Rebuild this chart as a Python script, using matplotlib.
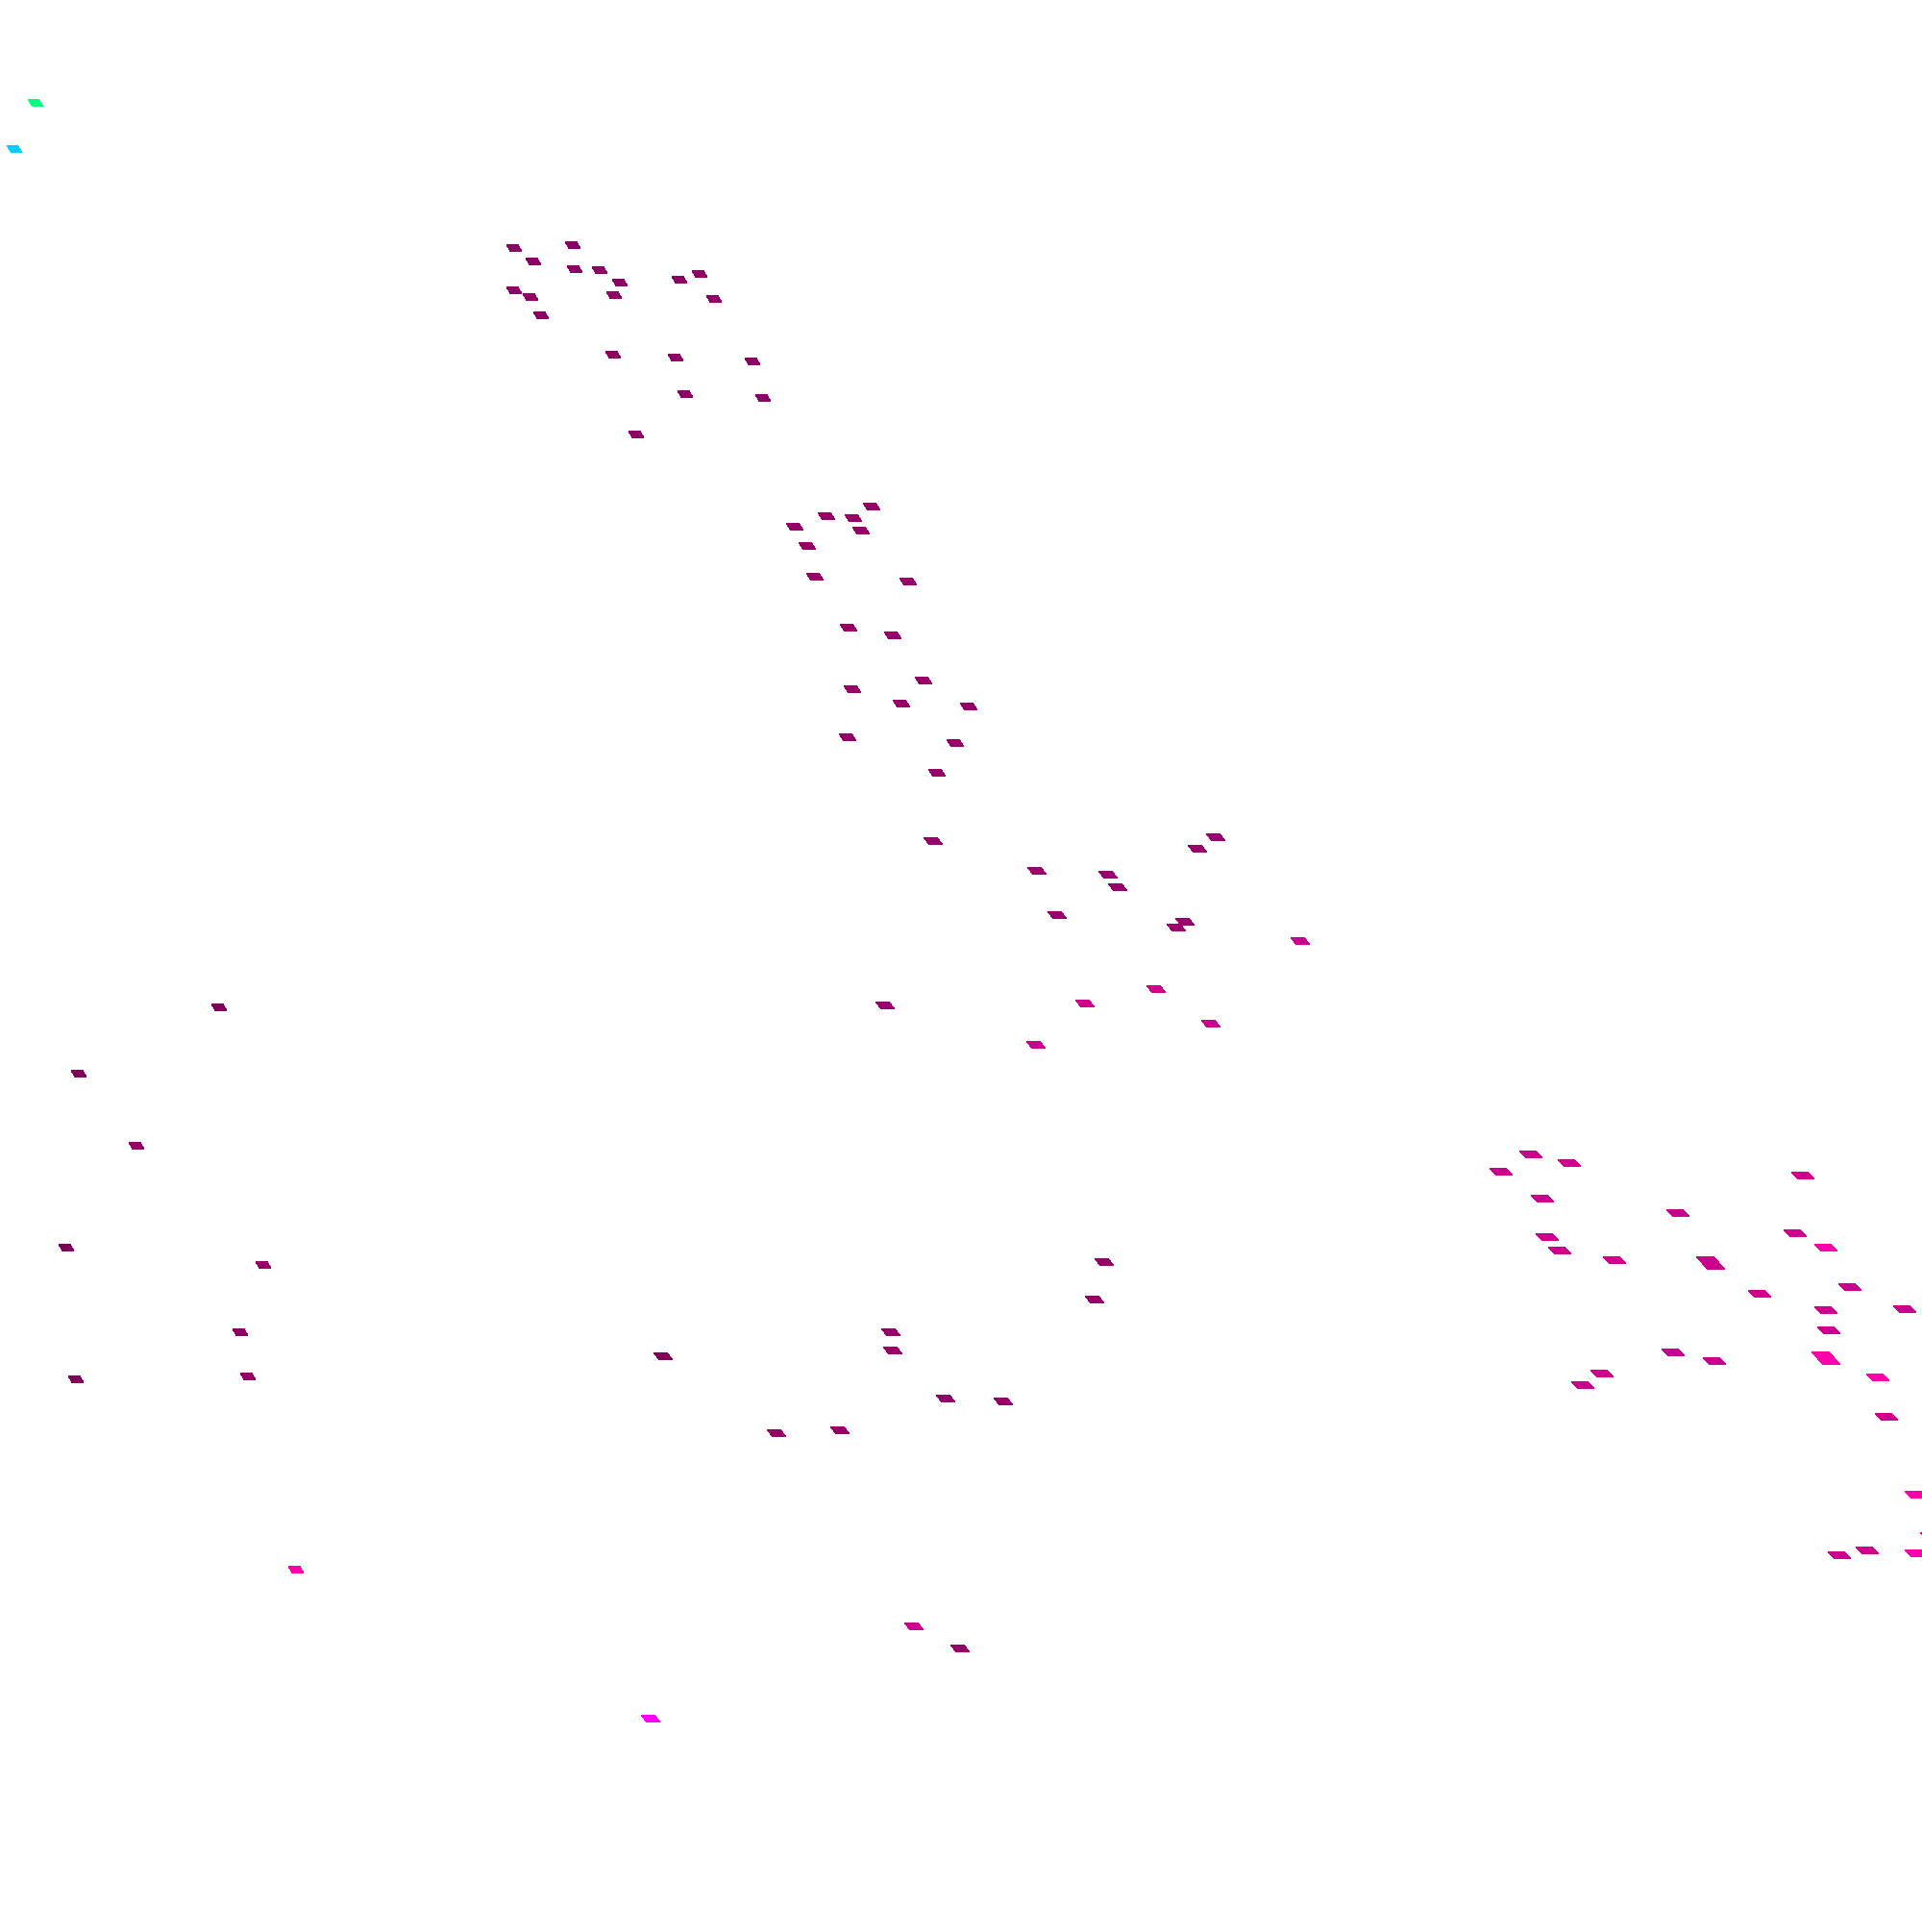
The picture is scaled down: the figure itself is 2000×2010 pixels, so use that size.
import matplotlib
matplotlib.use('Agg')
import matplotlib.pyplot as plt
from matplotlib.collections import PolyCollection

DARK = '#80005a'
PLUM = '#8f0064'
WINE = '#960066'
BERRY = '#99006b'
PINK = '#cc008c'
HOT = '#ff00aa'

# outliers at the top left
outlier_x = [37, 15]
outlier_y = [107, 155]
outlier_colors = ['#00ff80', '#00ccff']

# upper cluster
upper_x = [535, 596, 555, 598, 624, 645, 707, 728, 743, 535, 552, 639, 563, 638, 703, 783, 713, 794, 662]
upper_y = [258, 255, 272, 280, 281, 294, 291, 285, 311, 302, 309, 307, 328, 369, 372, 376, 410, 414, 452]

# middle column
column_x = [827, 860, 888, 907, 896, 840, 848, 945, 883, 929, 887, 961, 938, 1008, 882, 994, 975]
column_y = [548, 537, 539, 527, 552, 568, 600, 605, 653, 661, 717, 708, 732, 735, 767, 773, 804]

# branch to the right of the column
branch_x = [971, 1265, 1246, 1079, 1153, 1163, 1100, 1233, 1224, 921, 1353, 1203, 1129, 1260, 1078]
branch_y = [875, 871, 883, 906, 910, 923, 952, 959, 965, 1046, 979, 1029, 1044, 1065, 1087]
branch_colors = [BERRY] * 10 + [PINK] * 5

# left scatter
left_x = [228, 82, 142, 69, 274, 250, 79, 258, 308]
left_y = [1048, 1117, 1192, 1298, 1316, 1386, 1435, 1432, 1633]
left_colors = [DARK, DARK, WINE, DARK, WINE, PLUM, DARK, WINE, HOT]

# lower middle
lower_x = [1149, 1139, 927, 929, 690, 984, 1044, 874, 808, 951, 999, 677]
lower_y = [1313, 1352, 1386, 1405, 1411, 1455, 1458, 1488, 1491, 1692, 1715, 1788]
lower_colors = [WINE] * 4 + [DARK] + [WINE] * 4 + [PINK, WINE, '#ff00ff']

# right cluster
right_x = [1562, 1593, 1633, 1605, 1746, 1610, 1623, 1680, 1831, 1741, 1784, 1667, 1647, 1868, 1900, 1925,
           1900, 1982, 1903, 1954, 1876, 1963, 1914, 1943, 1994, 1994, 2010]
right_y = [1219, 1201, 1210, 1247, 1262, 1287, 1301, 1311, 1346, 1407, 1416, 1429, 1441, 1283, 1298, 1339,
           1363, 1362, 1384, 1433, 1223, 1474, 1618, 1613, 1555, 1616, 1598]
right_colors = [PINK] * 14 + [HOT] + [PINK] * 4 + [HOT] + [PINK] * 4 + [HOT] * 3

# the two larger marks in the right cluster
big_x = [1780, 1900]
big_y = [1314, 1413]
big_colors = [PINK, HOT]


def draw_marks(ax, xs, ys, colors, top_width, skew, height=7):
    """Draw parallelogram marks centred on the given points, top edge shifted left by skew."""
    polys = []
    for x, y in zip(xs, ys):
        left = x - (top_width + skew) / 2
        top = y - height / 2
        polys.append([(left, top), (left + top_width, top),
                      (left + top_width + skew, top + height), (left + skew, top + height)])
    ax.add_collection(PolyCollection(polys, facecolors=colors, edgecolors='none', antialiaseds=False))


fig = plt.figure(figsize=(20, 20.1), dpi=100)
ax = fig.add_axes([0, 0, 1, 1])
ax.set_xlim(0, 2000)
ax.set_ylim(2010, 0)
ax.axis('off')

draw_marks(ax, outlier_x, outlier_y, outlier_colors, 11, 4)
draw_marks(ax, upper_x, upper_y, PLUM, 12, 4)
draw_marks(ax, column_x, column_y, WINE, 13, 4)
draw_marks(ax, branch_x, branch_y, branch_colors, 14, 5)
draw_marks(ax, left_x, left_y, left_colors, 12, 4)
draw_marks(ax, lower_x, lower_y, lower_colors, 14, 5)
draw_marks(ax, right_x, right_y, right_colors, 17, 6)
draw_marks(ax, big_x, big_y, big_colors, 18, 12, height=14)

fig.savefig('out.png', dpi=100, facecolor='white')
plt.close(fig)
